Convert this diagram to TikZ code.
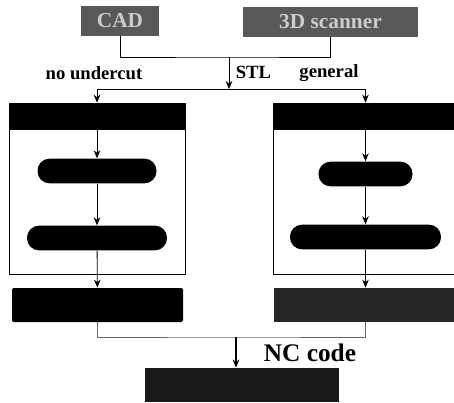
\documentclass[tikz,border=0pt]{standalone}
\usepackage{fontspec}
\setmainfont{Liberation Serif}
\usetikzlibrary{arrows.meta}

\begin{document}
\begin{tikzpicture}[>={Stealth[length=6pt,width=5pt]},x=0.75pt,y=-0.75pt,line width=0.6pt,
	src/.style={rectangle,fill=black!65,text=black!20,inner sep=0pt,minimum height=22.5pt,font=\bfseries\fontsize{16}{16}\selectfont},
	frame/.style={rectangle,draw,inner sep=0pt,minimum height=128.25pt},
	band/.style={rectangle,fill=black,inner sep=0pt,minimum height=20.25pt},
	pill/.style={rectangle,rounded corners=9pt,fill=black,inner sep=0pt,minimum height=18.5pt},
	box/.style={rectangle,fill=black,inner sep=0pt,minimum height=25.5pt},
	lbl/.style={font=\bfseries\fontsize{14}{14}\selectfont}]
	
	\useasboundingbox (0,0) rectangle (454,403);
	\clip (0,0) rectangle (454,403);
	
	%Knoten
	\node (cad) [src, minimum width=58.5pt] at (120,21) {CAD};
	\node (scan) [src, minimum width=131.25pt] at (330.5,22) {3D scanner};
	
	\node (lframe) [frame, minimum width=132pt] at (97,188.5) {};
	\node (lband) [band, minimum width=132pt, anchor=north] at (lframe.north) {};
	\node (lpill1) [pill, minimum width=89.25pt] at (97,171) {};
	\node (lpill2) [pill, minimum width=105pt] at (97,238) {};
	\node (lout) [box, minimum width=128.25pt, rounded corners=1pt] at (97.5,305) {};
	
	\node (rframe) [frame, minimum width=138pt] at (365.5,188.5) {};
	\node (rband) [band, minimum width=138pt, anchor=north] at (rframe.north) {};
	\node (rpill1) [pill, minimum width=70.5pt] at (365.5,174) {};
	\node (rpill2) [pill, minimum width=113.25pt] at (365.5,237) {};
	\node (rout) [box, fill=black!85, minimum width=138pt] at (365.5,305) {};
	
	\node (nc) [box, fill=black!90, minimum width=145.5pt] at (242,385) {};
	
	\coordinate (merge) at (229,57);
	\coordinate (split) at (229,89);
	\coordinate (join) at (236,337);
	
	%Beschriftung
	\node (under) [lbl] at (94,73) {no undercut};
	\node (stl) [lbl, anchor=west] at (231,72) {STL};
	\node (gen) [lbl] at (329,73) {general};
	\node (code) [anchor=west, font=\bfseries\fontsize{19}{19}\selectfont] at (259,353) {NC code};
	
	%Kanten
	\draw (cad.south) |- (merge) -| (scan.south);
	\draw[->] (merge) -- (split);
	\draw[->] (split) -| (lband.north);
	\draw[->] (split) -| (rband.north);
	
	\draw[->] (lband) -- (lpill1);
	\draw[->] (lpill1) -- (lpill2);
	\draw[->] (lpill2) -- (lout);
	\draw[->] (rband) -- (rpill1);
	\draw[->] (rpill1) -- (rpill2);
	\draw[->] (rpill2) -- (rout);
	
	\draw[black!60] (lout.south) |- (join) -| (rout.south);
	\draw[->, line width=1.2pt] (join) -- (join |- nc.north);
	
\end{tikzpicture}
\end{document}
